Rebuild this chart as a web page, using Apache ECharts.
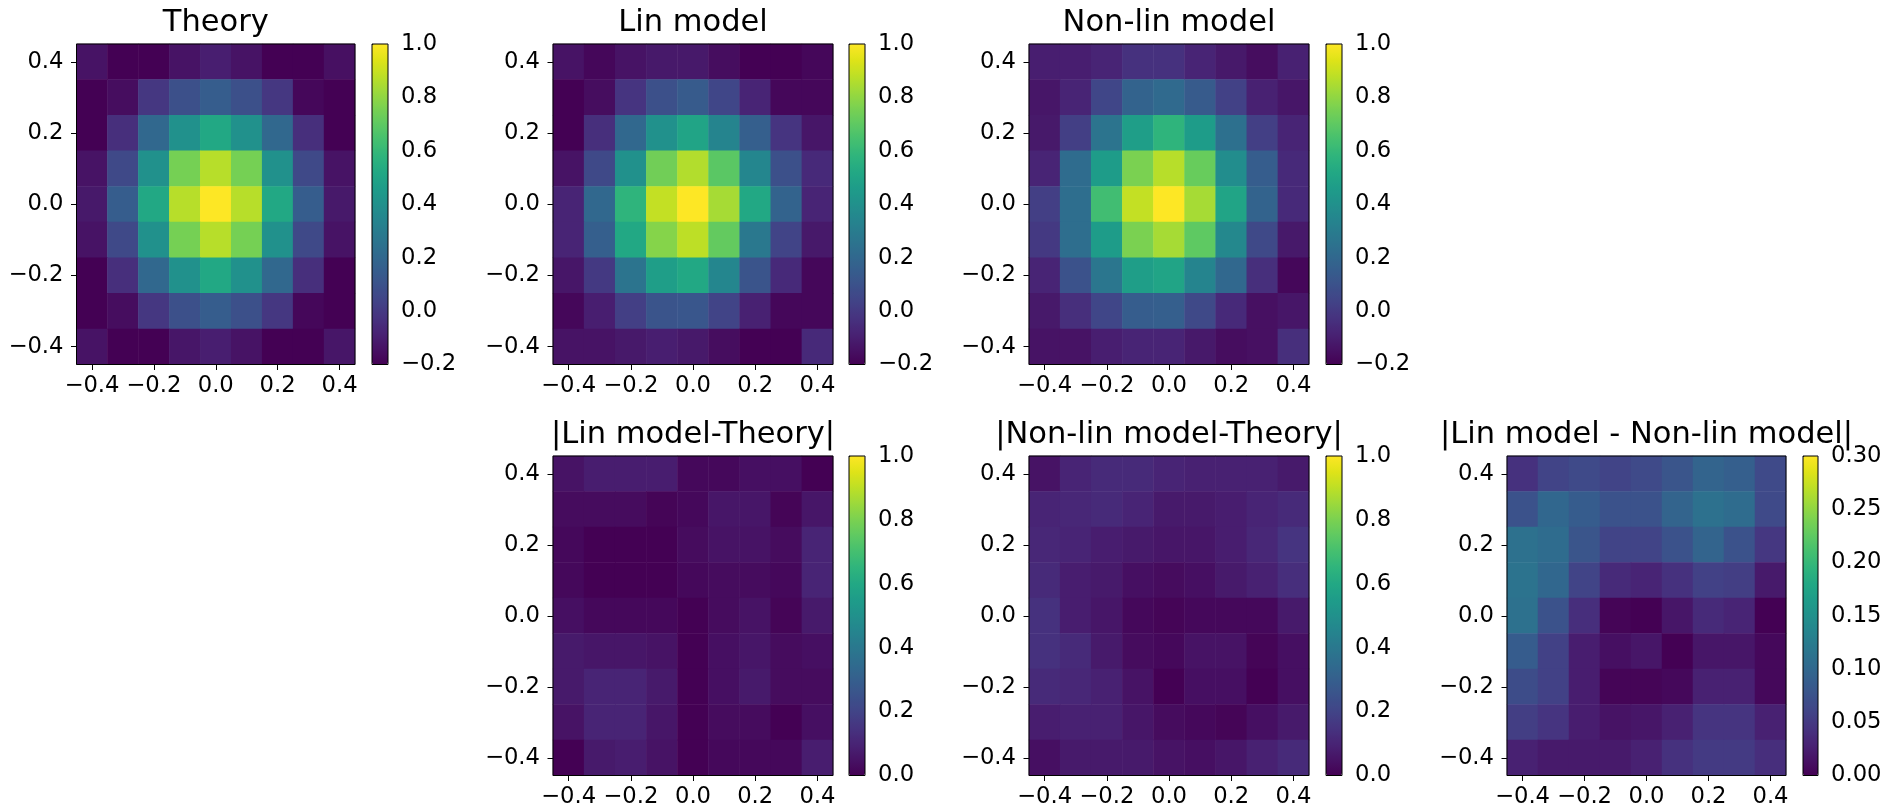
<!DOCTYPE html>
<html><head><meta charset="utf-8">
<script src="https://cdn.jsdelivr.net/npm/echarts@6/dist/echarts.min.js"></script>
<style>html,body{margin:0;padding:0;background:#fff}#c{width:1891px;height:812px}</style>
</head><body><div id="c"></div>
<script>
// ---------- DATA ----------
const tickLabels = ['\u22120.4','\u22120.3','\u22120.2','\u22120.1','0.0','0.1','0.2','0.3','0.4'];
const titles = ['Theory','Lin model','Non-lin model','|Lin model-Theory|','|Non-lin model-Theory|','|Lin model - Non-lin model|'];
const rangeMin = [-0.2, -0.2, -0.2, 0, 0, 0];
const rangeMax = [1.0, 1.0, 1.0, 1.0, 1.0, 0.30];
const rangeStep = [0.2, 0.2, 0.2, 0.2, 0.2, 0.05];
const rangeDecimals = [1, 1, 1, 1, 1, 2];

// rows listed top (y=0.4) to bottom (y=-0.4)
const theory = [
 [-0.14,-0.20,-0.20,-0.14,-0.10,-0.14,-0.20,-0.20,-0.15],
 [-0.20,-0.16,-0.01, 0.09, 0.15, 0.09,-0.01,-0.18,-0.20],
 [-0.20,-0.04, 0.20, 0.40, 0.52, 0.40, 0.20,-0.04,-0.20],
 [-0.14, 0.06, 0.40, 0.75, 0.87, 0.75, 0.40, 0.06,-0.14],
 [-0.12, 0.15, 0.52, 0.87, 1.00, 0.87, 0.52, 0.15,-0.12],
 [-0.14, 0.06, 0.40, 0.75, 0.87, 0.75, 0.40, 0.06,-0.14],
 [-0.20,-0.04, 0.20, 0.40, 0.52, 0.40, 0.20,-0.04,-0.20],
 [-0.20,-0.16,-0.01, 0.09, 0.15, 0.09,-0.01,-0.18,-0.20],
 [-0.14,-0.20,-0.20,-0.13,-0.10,-0.14,-0.20,-0.20,-0.13]
];
const linModel = [
 [-0.14,-0.18,-0.14,-0.12,-0.12,-0.16,-0.20,-0.20,-0.18],
 [-0.20,-0.16,-0.02, 0.09, 0.14, 0.05,-0.08,-0.18,-0.18],
 [-0.20,-0.04, 0.20, 0.40, 0.50, 0.34, 0.16,-0.02,-0.13],
 [-0.14, 0.06, 0.40, 0.74, 0.86, 0.69, 0.35, 0.09,-0.06],
 [-0.08, 0.20, 0.58, 0.89, 1.00, 0.84, 0.52, 0.18,-0.08],
 [-0.08, 0.16, 0.52, 0.78, 0.88, 0.71, 0.28, 0.04,-0.12],
 [-0.13, 0.00, 0.26, 0.47, 0.52, 0.35, 0.11,-0.06,-0.18],
 [-0.18,-0.10, 0.02, 0.11, 0.12, 0.04,-0.09,-0.18,-0.18],
 [-0.14,-0.14,-0.12,-0.10,-0.12,-0.16,-0.20,-0.20,-0.06]
];
const nonLinModel = [
 [-0.10,-0.10,-0.08,-0.03,-0.03,-0.08,-0.12,-0.16,-0.09],
 [-0.13,-0.08, 0.05, 0.18, 0.21, 0.14, 0.03,-0.09,-0.13],
 [-0.12, 0.02, 0.26, 0.47, 0.58, 0.46, 0.24, 0.02,-0.08],
 [-0.08, 0.22, 0.46, 0.76, 0.87, 0.72, 0.38, 0.15,-0.06],
 [ 0.02, 0.23, 0.63, 0.89, 1.00, 0.84, 0.50, 0.18,-0.06],
 [ 0.00, 0.23, 0.46, 0.76, 0.84, 0.70, 0.36, 0.06,-0.12],
 [-0.08, 0.10, 0.27, 0.47, 0.50, 0.34, 0.20,-0.04,-0.18],
 [-0.12,-0.04, 0.05, 0.15, 0.16, 0.06,-0.06,-0.15,-0.13],
 [-0.14,-0.14,-0.10,-0.08,-0.08,-0.12,-0.16,-0.15,-0.04]
];
const linDiff = [
 [0.05,0.08,0.08,0.08,0.02,0.02,0.04,0.04,0.00],
 [0.03,0.03,0.03,0.01,0.02,0.06,0.06,0.01,0.06],
 [0.02,0.00,0.00,0.00,0.03,0.05,0.05,0.03,0.10],
 [0.02,0.00,0.00,0.00,0.02,0.03,0.03,0.02,0.10],
 [0.04,0.02,0.02,0.02,0.00,0.03,0.05,0.01,0.07],
 [0.07,0.06,0.06,0.05,0.00,0.04,0.06,0.03,0.04],
 [0.07,0.10,0.10,0.07,0.00,0.04,0.07,0.03,0.03],
 [0.05,0.10,0.10,0.06,0.00,0.03,0.03,0.00,0.04],
 [0.00,0.07,0.08,0.05,0.00,0.02,0.02,0.02,0.08]
];
const nonLinDiff = [
 [0.05,0.10,0.12,0.12,0.10,0.09,0.09,0.09,0.07],
 [0.10,0.11,0.12,0.10,0.07,0.07,0.08,0.10,0.12],
 [0.11,0.10,0.08,0.07,0.06,0.06,0.08,0.11,0.15],
 [0.12,0.08,0.07,0.04,0.03,0.04,0.07,0.09,0.13],
 [0.14,0.08,0.06,0.02,0.01,0.02,0.02,0.02,0.07],
 [0.14,0.12,0.07,0.03,0.02,0.05,0.05,0.01,0.04],
 [0.12,0.11,0.09,0.05,0.00,0.04,0.04,0.00,0.04],
 [0.08,0.09,0.09,0.06,0.03,0.02,0.01,0.04,0.07],
 [0.04,0.07,0.07,0.07,0.05,0.04,0.06,0.09,0.12]
];
const modelDiff = [
 [0.042,0.060,0.066,0.060,0.066,0.078,0.096,0.090,0.066],
 [0.075,0.099,0.087,0.075,0.075,0.096,0.111,0.105,0.066],
 [0.111,0.105,0.078,0.060,0.060,0.075,0.096,0.075,0.048],
 [0.114,0.099,0.060,0.036,0.030,0.042,0.057,0.054,0.021],
 [0.111,0.075,0.039,0.003,0.000,0.018,0.036,0.030,0.000],
 [0.087,0.057,0.024,0.012,0.018,0.000,0.018,0.018,0.006],
 [0.069,0.057,0.024,0.003,0.003,0.006,0.027,0.027,0.006],
 [0.054,0.045,0.024,0.015,0.018,0.027,0.045,0.045,0.027],
 [0.027,0.021,0.021,0.021,0.027,0.042,0.051,0.051,0.039]
];
const matrices = [theory, linModel, nonLinModel, linDiff, nonLinDiff, modelDiff];

// ---------- LAYOUT / STYLE ----------
const plotBoxes = [
 [76.5, 44, 278.5, 320.5],
 [553, 44, 280, 320.5],
 [1029, 44, 280, 320.5],
 [553, 456, 280, 319.5],
 [1029, 456, 280, 319.5],
 [1507, 456, 279, 319.5]
];
const cbarBoxes = [
 [372, 44, 16, 320.5],
 [849, 44, 16, 320.5],
 [1326, 44, 16, 320.5],
 [849, 456, 16, 319.5],
 [1326, 456, 16, 319.5],
 [1803, 456, 15, 319.5]
];
const titleY = [23, 23, 23, 435, 435, 435];
const viridis = ['#440154','#471365','#482475','#463480','#414487','#3b528b','#355f8d','#2f6c8e','#2a788e','#25848e','#21918c','#1e9c89','#22a884','#2fb47c','#44bf70','#5ec962','#7ad151','#9bd93c','#bddf26','#dfe318','#fde725'];
const FONT = 'DejaVu Sans';
const TICK_FS = 22.7;

const grids = [], xAxes = [], yAxes = [], series = [], visualMaps = [], graphics = [];
const catAxis = (gi, pos, margin) => ({
  gridIndex: gi, type: 'category', data: tickLabels, position: pos,
  axisLine: {show: false},
  axisTick: {show: true, alignWithLabel: true, interval: 1, length: 5.5, lineStyle: {color: '#000', width: 1}},
  axisLabel: {interval: 1, color: '#000', fontSize: TICK_FS, fontFamily: FONT, margin: margin},
  splitLine: {show: false}, splitArea: {show: false}
});
matrices.forEach((m, i) => {
  const p = plotBoxes[i], c = cbarBoxes[i];
  grids.push({left: p[0], top: p[1], width: p[2], height: p[3], show: true, z: 10,
    borderColor: '#000', borderWidth: 1, backgroundColor: 'transparent'});
  grids.push({left: c[0], top: c[1], width: c[2], height: c[3], show: true, z: 10,
    borderColor: '#000', borderWidth: 1, backgroundColor: 'transparent'});
  xAxes.push(catAxis(2 * i, 'bottom', 10));
  yAxes.push(catAxis(2 * i, 'left', 13));
  xAxes.push({gridIndex: 2 * i + 1, type: 'value', show: false, min: 0, max: 1});
  const dec = rangeDecimals[i];
  yAxes.push({gridIndex: 2 * i + 1, type: 'value', position: 'right',
    min: rangeMin[i], max: rangeMax[i], interval: rangeStep[i],
    axisLine: {show: false},
    axisTick: {show: true, length: 5.5, lineStyle: {color: '#000', width: 1}},
    axisLabel: {color: '#000', fontSize: TICK_FS, fontFamily: FONT, margin: 13,
      formatter: v => v.toFixed(dec).replace('-', '\u2212')},
    splitLine: {show: false}});
  const data = [];
  m.forEach((row, r) => row.forEach((v, col) => data.push([col, m.length - 1 - r, v])));
  series.push({type: 'heatmap', xAxisIndex: 2 * i, yAxisIndex: 2 * i, data: data,
    itemStyle: {borderWidth: 0}, emphasis: {disabled: true}, silent: true, z: 2});
  visualMaps.push({type: 'continuous', seriesIndex: i, min: rangeMin[i], max: rangeMax[i],
    calculable: false, show: true, orient: 'vertical', left: c[0], top: c[1],
    itemWidth: c[2], itemHeight: c[3], padding: 0, hoverLink: false,
    inRange: {color: viridis}, z: 4});
  graphics.push({type: 'text', x: p[0] + p[2] / 2, y: titleY[i], silent: true,
    style: {text: titles[i], fill: '#000', fontSize: 30.5, fontFamily: FONT,
      textAlign: 'center', textVerticalAlign: 'middle'}});
});
matrices.forEach((m, i) => {
  series.push({type: 'scatter', xAxisIndex: 2 * i + 1, yAxisIndex: 2 * i + 1, data: [], silent: true});
});

const chart = echarts.init(document.getElementById('c'), null, {renderer: 'canvas'});
chart.setOption({
  animation: false,
  backgroundColor: '#fff',
  grid: grids, xAxis: xAxes, yAxis: yAxes,
  visualMap: visualMaps, series: series, graphic: graphics
});
</script></body></html>
